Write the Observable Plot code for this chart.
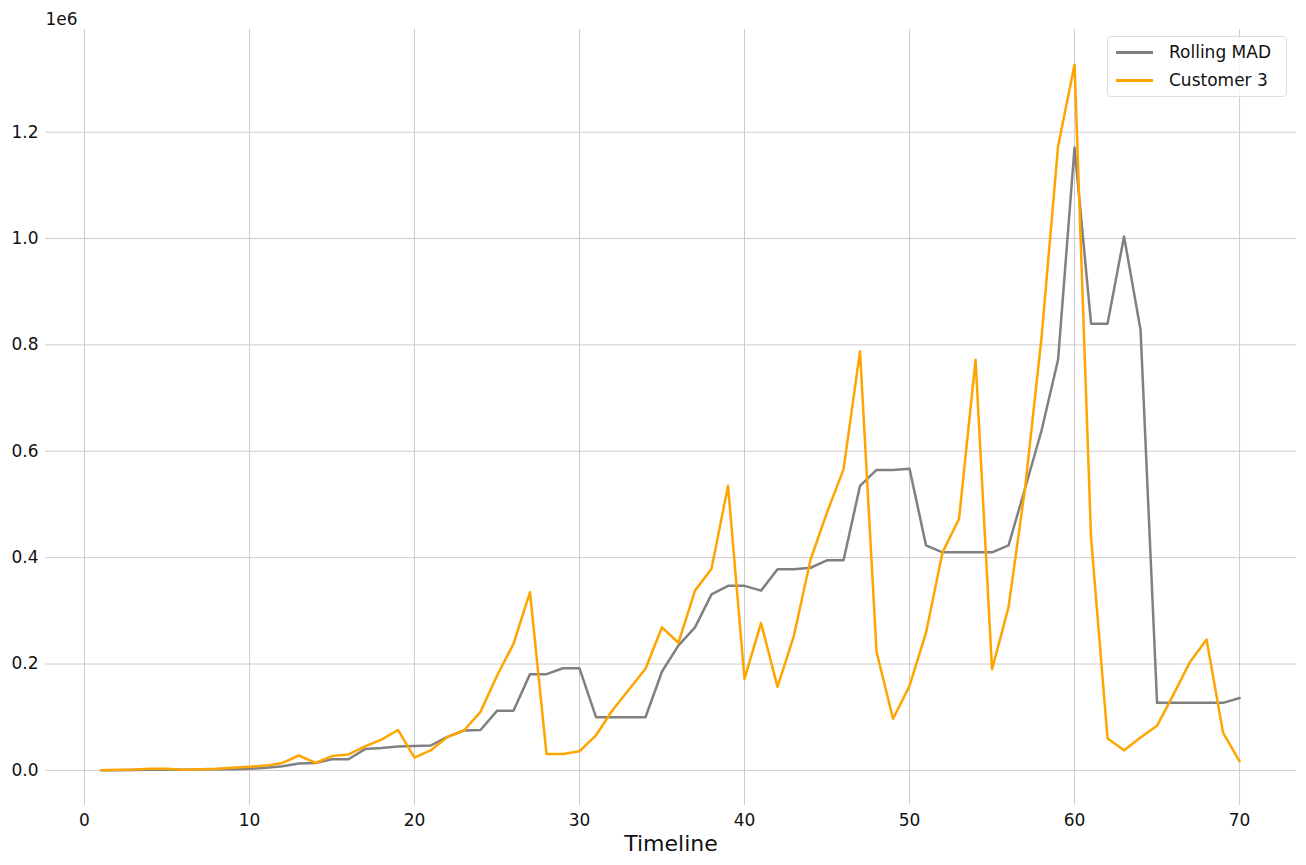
<!DOCTYPE html>
<html>
<head>
<meta charset="utf-8">
<script src="https://cdn.jsdelivr.net/npm/d3@7"></script>
<script src="https://cdn.jsdelivr.net/npm/@observablehq/plot@0.6"></script>
<style>
  body { margin: 0; background: #fff; font-family: "DejaVu Sans", sans-serif; }
  #grafico { position: relative; width: 1306px; height: 865px; }
  .legend {
    position: absolute; left: 1107px; top: 36px; width: 180px; height: 61px;
    border: 1px solid #dddddd; border-radius: 4px; background: rgba(255,255,255,0.8);
    box-sizing: border-box; font-size: 17px; color: #111;
  }
  .legend .item { position: absolute; left: 8px; height: 20px; display: flex; align-items: center; }
  .legend .sw { width: 37px; height: 3px; margin-right: 16px; }
</style>
</head>
<body>
<div id="grafico">
  <div class="legend">
    <div class="item" style="top:5px"><span class="sw" style="background:#808080"></span>Rolling MAD</div>
    <div class="item" style="top:33px"><span class="sw" style="background:#FFA500"></span>Customer 3</div>
  </div>
</div>
<script>
// eje temporal
let timeline = [1, 2, 3, 4, 5, 6, 7, 8, 9, 10, 11, 12, 13, 14, 15, 16, 17, 18, 19, 20,
  21, 22, 23, 24, 25, 26, 27, 28, 29, 30, 31, 32, 33, 34, 35, 36, 37, 38, 39, 40,
  41, 42, 43, 44, 45, 46, 47, 48, 49, 50, 51, 52, 53, 54, 55, 56, 57, 58, 59, 60,
  61, 62, 63, 64, 65, 66, 67, 68, 69, 70];

// valores en millones (eje en 1e6)
let customer3 = [0.0005, 0.001, 0.0015, 0.003, 0.003, 0.001, 0.002, 0.003, 0.005, 0.007,
  0.009, 0.014, 0.028, 0.014, 0.027, 0.030, 0.045, 0.058, 0.076, 0.024,
  0.038, 0.063, 0.075, 0.110, 0.178, 0.238, 0.335, 0.031, 0.031, 0.036,
  0.066, 0.113, 0.152, 0.191, 0.269, 0.240, 0.338, 0.379, 0.535, 0.172,
  0.277, 0.157, 0.254, 0.396, 0.485, 0.566, 0.788, 0.223, 0.097, 0.159,
  0.259, 0.410, 0.473, 0.772, 0.190, 0.307, 0.530, 0.814, 1.173, 1.327,
  0.437, 0.060, 0.038, 0.062, 0.084, 0.143, 0.204, 0.246, 0.071, 0.017];

let rollingMAD = [0.0002, 0.0005, 0.0008, 0.001, 0.001, 0.001, 0.0015, 0.002, 0.002, 0.003,
  0.005, 0.008, 0.013, 0.014, 0.021, 0.021, 0.040, 0.042, 0.045, 0.046,
  0.047, 0.063, 0.075, 0.076, 0.112, 0.112, 0.181, 0.181, 0.192, 0.192,
  0.100, 0.100, 0.100, 0.100, 0.186, 0.235, 0.269, 0.331, 0.347, 0.347,
  0.338, 0.378, 0.378, 0.381, 0.395, 0.395, 0.535, 0.565, 0.565, 0.567,
  0.423, 0.410, 0.410, 0.410, 0.410, 0.423, 0.530, 0.639, 0.772, 1.171,
  0.840, 0.840, 1.004, 0.828, 0.127, 0.127, 0.127, 0.127, 0.127, 0.136];

let xTicks = [0, 10, 20, 30, 40, 50, 60, 70];
let yTicks = [0, 0.2, 0.4, 0.6, 0.8, 1.0, 1.2];

let dataMAD = timeline.map((t, i) => ({x: t, y: rollingMAD[i] * 1e6}));
let dataCust = timeline.map((t, i) => ({x: t, y: customer3[i] * 1e6}));

let chart = Plot.plot({
  width: 1306,
  height: 865,
  marginLeft: 45,
  marginRight: 10,
  marginTop: 29,
  marginBottom: 60,
  style: {fontFamily: "DejaVu Sans", fontSize: "17px", color: "#111"},
  x: {domain: [-2.36, 73.45]},
  y: {domain: [-0.066e6, 1.393e6]},
  marks: [
    Plot.gridX(xTicks, {stroke: "#cccccc", strokeOpacity: 1, strokeWidth: 1}),
    Plot.gridY(yTicks.map(v => v * 1e6), {stroke: "#cccccc", strokeOpacity: 1, strokeWidth: 1}),
    Plot.axisX(xTicks, {tickSize: 0, tickPadding: 8, label: null, fontSize: 17}),
    Plot.axisY(yTicks.map(v => v * 1e6), {
      tickSize: 0, tickPadding: 7, label: null, fontSize: 17,
      tickFormat: d => (d / 1e6).toFixed(1)
    }),
    Plot.line(dataMAD, {x: "x", y: "y", stroke: "#808080", strokeWidth: 2.5}),
    Plot.line(dataCust, {x: "x", y: "y", stroke: "#FFA500", strokeWidth: 2.5}),
    Plot.text(["1e6"], {frameAnchor: "top-left", textAnchor: "start", lineAnchor: "bottom", dy: -5, fontSize: 17}),
    Plot.text(["Timeline"], {frameAnchor: "bottom", lineAnchor: "middle", dy: 38, fontSize: 22})
  ]
});

d3.select('#grafico').insert(() => chart, '.legend');
</script>
</body>
</html>
